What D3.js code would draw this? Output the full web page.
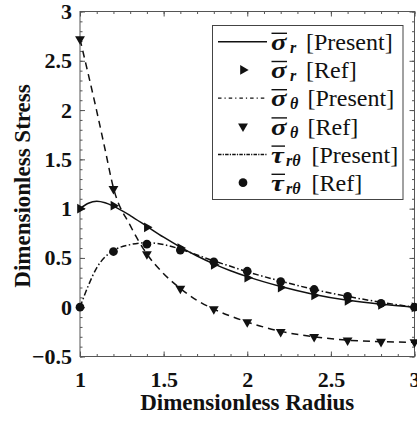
<!DOCTYPE html>
<html>
<head>
<meta charset="utf-8">
<script src="https://cdn.jsdelivr.net/npm/d3@7"></script>
<style>
  body { margin: 0; background: #fff; }
  svg { display: block; }
  text { font-family: "Liberation Serif", "Times New Roman", serif; fill: #111; }
</style>
</head>
<body>
<svg id="chart" width="417" height="421"></svg>
<script>
// Reference solution, sampled every 0.2 in radius
const refRadius = [1.0, 1.2, 1.4, 1.6, 1.8, 2.0, 2.2, 2.4, 2.6, 2.8, 3.0];
const sigmaRRef = [1.00, 1.03, 0.81, 0.60, 0.43, 0.30, 0.20, 0.12, 0.065, 0.025, 0.0];
const sigmaThetaRef = [2.72, 1.20, 0.54, 0.19, -0.02, -0.15, -0.25, -0.30, -0.335, -0.35, -0.355];
const tauRef = [0.0, 0.565, 0.64, 0.58, 0.46, 0.365, 0.26, 0.18, 0.11, 0.04, 0.0];

// Present solution on a finer radius grid
const curveRadius = [1.0, 1.05, 1.1, 1.15, 1.2, 1.3, 1.4, 1.5, 1.6, 1.7, 1.8, 1.9, 2.0, 2.2, 2.4, 2.6, 2.8, 3.0];
const sigmaRPresent = [1.00, 1.055, 1.075, 1.06, 1.025, 0.93, 0.82, 0.71, 0.61, 0.52, 0.44, 0.37, 0.31, 0.21, 0.13, 0.07, 0.03, 0.0];
const sigmaThetaPresent = [2.72, 2.36, 1.99, 1.60, 1.21, 0.83, 0.54, 0.34, 0.19, 0.07, -0.02, -0.09, -0.15, -0.245, -0.30, -0.335, -0.35, -0.355];
const tauPresent = [0.0, 0.22, 0.40, 0.51, 0.575, 0.635, 0.655, 0.635, 0.59, 0.53, 0.47, 0.415, 0.36, 0.265, 0.18, 0.11, 0.05, 0.0];

// Axis ticks
const xTicks = [1, 1.5, 2, 2.5, 3];
const yTicks = [-0.5, 0, 0.5, 1, 1.5, 2, 2.5, 3];
const xMinorTicks = d3.range(10, 31).map(d => d / 10);
const yMinorTicks = d3.range(-5, 31).map(d => d / 10);

// Legend entries
const legendSymbols = ["σ", "σ", "σ", "σ", "τ", "τ"];
const legendSubscripts = ["r", "r", "θ", "θ", "rθ", "rθ"];
const legendLabels = ["[Present]", "[Ref]", "[Present]", "[Ref]", "[Present]", "[Ref]"];

const svg = d3.select("#chart");
svg.append("rect").attr("width", 417).attr("height", 421).attr("fill", "#fff");

const plotLeft = 80, plotRight = 414.5, plotTop = 11.5, plotBottom = 356.5;
const x = d3.scaleLinear().domain([1, 3]).range([plotLeft, plotRight]);
const y = d3.scaleLinear().domain([-0.5, 3]).range([plotBottom, plotTop]);

const axisColor = "#555";

function styleAxis(g) {
  g.select(".domain").remove();
  g.selectAll(".tick line").attr("stroke", axisColor).attr("stroke-width", 1);
  g.selectAll(".tick text")
    .attr("font-size", 22).attr("font-weight", "bold").attr("fill", "#111")
    .attr("font-family", "'Liberation Serif','Times New Roman',serif");
}

// minor ticks on all four sides (inward)
svg.append("g").attr("transform", `translate(0,${plotBottom})`)
  .call(d3.axisBottom(x).tickValues(xMinorTicks).tickSize(-2.5).tickFormat(""))
  .call(styleAxis);
svg.append("g").attr("transform", `translate(0,${plotTop})`)
  .call(d3.axisTop(x).tickValues(xMinorTicks).tickSize(-2.5).tickFormat(""))
  .call(styleAxis);
svg.append("g").attr("transform", `translate(${plotLeft},0)`)
  .call(d3.axisLeft(y).tickValues(yMinorTicks).tickSize(-2.5).tickFormat(""))
  .call(styleAxis);
svg.append("g").attr("transform", `translate(${plotRight},0)`)
  .call(d3.axisRight(y).tickValues(yMinorTicks).tickSize(-2.5).tickFormat(""))
  .call(styleAxis);

// major ticks with labels
svg.append("g").attr("transform", `translate(0,${plotBottom})`)
  .call(d3.axisBottom(x).tickValues(xTicks).tickSize(-5).tickPadding(15).tickFormat(d3.format("")))
  .call(styleAxis);
svg.append("g").attr("transform", `translate(0,${plotTop})`)
  .call(d3.axisTop(x).tickValues(xTicks).tickSize(-5).tickFormat(""))
  .call(styleAxis);
svg.append("g").attr("transform", `translate(${plotLeft},0)`)
  .call(d3.axisLeft(y).tickValues(yTicks).tickSize(-5).tickPadding(8).tickFormat(d3.format("")))
  .call(styleAxis);
svg.append("g").attr("transform", `translate(${plotRight},0)`)
  .call(d3.axisRight(y).tickValues(yTicks).tickSize(-5).tickFormat(""))
  .call(styleAxis);

// plot frame
svg.append("rect")
  .attr("x", plotLeft).attr("y", plotTop)
  .attr("width", plotRight - plotLeft).attr("height", plotBottom - plotTop)
  .attr("fill", "none").attr("stroke", axisColor).attr("stroke-width", 1);

// axis titles
svg.append("text")
  .attr("x", (plotLeft + plotRight) / 2).attr("y", 410)
  .attr("text-anchor", "middle").attr("font-size", 23).attr("font-weight", "bold")
  .text("Dimensionless Radius");
svg.append("text")
  .attr("transform", "translate(30,186) rotate(-90)")
  .attr("text-anchor", "middle").attr("font-size", 23).attr("font-weight", "bold")
  .text("Dimensionless Stress");

// curves
const line = d3.line().x(d => x(d[0])).y(d => y(d[1])).curve(d3.curveMonotoneX);
const curves = [
  { vals: sigmaRPresent, dash: null },
  { vals: sigmaThetaPresent, dash: "7,5" },
  { vals: tauPresent, dash: "6,2.5,1.5,2.5" }
];
curves.forEach(c => {
  svg.append("path")
    .datum(curveRadius.map((r, i) => [r, c.vals[i]]))
    .attr("d", line)
    .attr("fill", "none").attr("stroke", "#111").attr("stroke-width", 1.5)
    .attr("stroke-dasharray", c.dash);
});

// reference markers
const triRight = d3.symbol().type(d3.symbolTriangle).size(42);
const circ = d3.symbol().type(d3.symbolCircle).size(60);
function drawMarkers(vals, sym, rot) {
  svg.append("g").selectAll("path")
    .data(refRadius.map((r, i) => [r, vals[i]]))
    .join("path")
    .attr("d", sym)
    .attr("transform", d => `translate(${x(d[0])},${y(d[1])}) rotate(${rot})`)
    .attr("fill", "#111");
}
drawMarkers(sigmaRRef, triRight, 90);
drawMarkers(sigmaThetaRef, triRight, 180);
drawMarkers(tauRef, circ, 0);

// legend
const legend = svg.append("g");
legend.append("rect")
  .attr("x", 212.5).attr("y", 25.5).attr("width", 190.5).attr("height", 174)
  .attr("fill", "#fff").attr("stroke", "#444").attr("stroke-width", 1);

const legendKeys = [
  { kind: "line", dash: null },
  { kind: "tri", rot: 90 },
  { kind: "line", dash: "3.5,3,1.2,3" },
  { kind: "tri", rot: 180 },
  { kind: "line", dash: "3.5,1.2,1.2,1.2" },
  { kind: "circ" }
];
const labelX = [306, 306, 307.5, 307.5, 311.5, 311.5];
legendKeys.forEach((key, i) => {
  const cy = 41.7 + i * 28.2;
  const base = cy + 8.3;
  if (key.kind === "line") {
    legend.append("line")
      .attr("x1", 218).attr("x2", 267).attr("y1", cy).attr("y2", cy)
      .attr("stroke", "#111").attr("stroke-width", 1.4)
      .attr("stroke-dasharray", key.dash);
  } else {
    legend.append("path")
      .attr("d", key.kind === "circ" ? circ : triRight)
      .attr("transform", `translate(243,${cy}) rotate(${key.rot || 0})`)
      .attr("fill", "#111");
  }
  const isTau = legendSymbols[i] === "τ";
  // bold italic symbol, widened a little, with an overbar
  legend.append("text")
    .attr("transform", `translate(271,${base}) scale(1.25,1)`)
    .attr("font-size", 23).attr("font-weight", "bold").attr("font-style", "italic")
    .text(legendSymbols[i]);
  legend.append("line")
    .attr("x1", 271.5).attr("x2", isTau ? 285 : 287)
    .attr("y1", cy - 8.4).attr("y2", cy - 8.4)
    .attr("stroke", "#111").attr("stroke-width", 1.4);
  legend.append("text")
    .attr("x", isTau ? 286 : 290).attr("y", base + 3)
    .attr("font-size", 16).attr("font-weight", "bold").attr("font-style", "italic")
    .text(legendSubscripts[i]);
  legend.append("text").attr("x", labelX[i]).attr("y", base)
    .attr("font-size", 24).text(legendLabels[i]);
});
</script>
</body>
</html>
